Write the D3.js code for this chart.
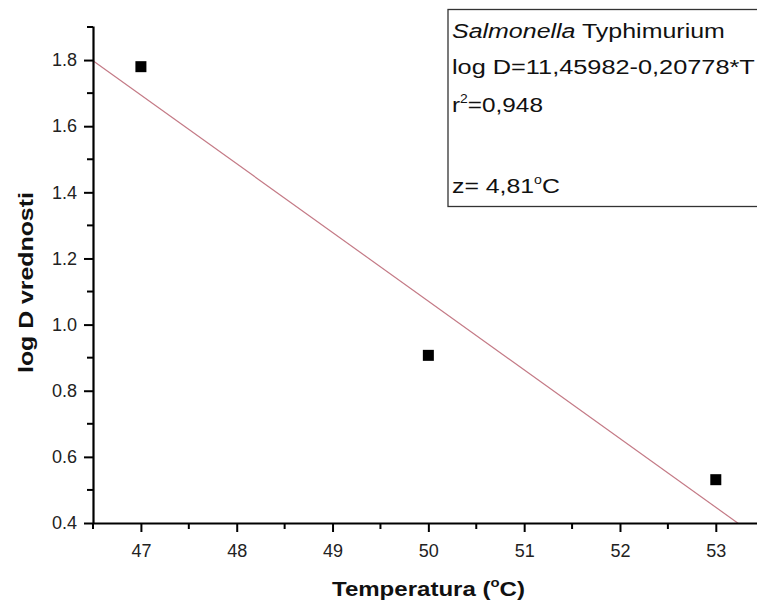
<!DOCTYPE html>
<html>
<head>
<meta charset="utf-8">
<script src="https://cdn.jsdelivr.net/npm/d3@7"></script>
<style>
  body { margin: 0; background: #fff; }
  text { font-family: "Liberation Sans", Arial, sans-serif; }
</style>
</head>
<body>
<svg id="chart" width="757" height="608"></svg>
<script>
// measured points
var temps = [47, 50, 53];
var logD = [1.78, 0.907, 0.531];
// linear fit from the legend
var intercept = 11.45982, slope = -0.20778;
var xTicks = [47, 48, 49, 50, 51, 52, 53];
var yTicks = [0.4, 0.6, 0.8, 1.0, 1.2, 1.4, 1.6, 1.8];

var margin = {left: 93, top: 26, right: 0, bottom: 85},
    width = 757 - margin.left - margin.right,
    height = 608 - margin.top - margin.bottom;

var svg = d3.select("#chart");
var g = svg.append("g")
    .attr("transform", "translate(" + margin.left + "," + margin.top + ")");

var x = d3.scaleLinear().domain([46.5, 53.43]).range([0, width]);
var y = d3.scaleLinear().domain([0.4, 1.903]).range([height, 0]);

// the original text is drawn wider than the font, so stretch it to the measured width
function stretch(sel, x0, target, extra) {
  var w = sel.node().getComputedTextLength();
  sel.attr("x", 0).attr("transform", "translate(" + x0 + ",0)" + (extra || "") + " scale(" + (target / w) + ",1)");
}

g.append("clipPath").attr("id", "clip")
  .append("rect").attr("width", width).attr("height", height);

// fit line
g.append("line")
    .attr("clip-path", "url(#clip)")
    .attr("x1", x(46.5)).attr("y1", y(intercept + slope * 46.5))
    .attr("x2", x(53.43)).attr("y2", y(intercept + slope * 53.43))
    .attr("stroke", "#c47a86").attr("stroke-width", 1.2);

// points
g.selectAll("rect.pt")
    .data(temps)
    .enter().append("rect")
    .attr("class", "pt")
    .attr("x", function(d) { return x(d) - 5.5; })
    .attr("y", function(d, i) { return y(logD[i]) - 5.5; })
    .attr("width", 11).attr("height", 11)
    .attr("fill", "#000");

// minor ticks
var xMinor = d3.range(46.5, 53.5, 0.5).filter(function(v) { return v % 1 !== 0; });
var yMinor = d3.range(0.5, 1.95, 0.2);

var xAxis = g.append("g")
    .attr("transform", "translate(0," + height + ")")
    .call(d3.axisBottom(x).tickValues(xTicks).tickSize(9).tickSizeOuter(0).tickPadding(12).tickFormat(d3.format("d")));
xAxis.append("g").selectAll("line")
    .data(xMinor).enter().append("line")
    .attr("x1", function(d) { return x(d); }).attr("x2", function(d) { return x(d); })
    .attr("y1", 0).attr("y2", 6)
    .attr("stroke", "#000").attr("stroke-width", 2);

var yAxis = g.append("g")
    .call(d3.axisLeft(y).tickValues(yTicks).tickSize(9).tickSizeOuter(0).tickPadding(7).tickFormat(d3.format(".1f")));
yAxis.append("g").selectAll("line")
    .data(yMinor).enter().append("line")
    .attr("y1", function(d) { return y(d); }).attr("y2", function(d) { return y(d); })
    .attr("x1", 0).attr("x2", -6)
    .attr("stroke", "#000").attr("stroke-width", 2);

[xAxis, yAxis].forEach(function(a) {
  a.select(".domain").attr("stroke-width", 2.2);
  a.selectAll(".tick line").attr("stroke-width", 2);
  a.selectAll(".tick text").style("font-size", "18px").attr("fill", "#222")
    .style("font-family", "'Liberation Sans', Arial, sans-serif");
});

// axis titles
var xt = svg.append("text")
    .attr("y", 596)
    .style("font-size", "21px").style("font-weight", "bold").attr("fill", "#111");
xt.append("tspan").text("Temperatura (");
xt.append("tspan").text("o").attr("dy", -9).style("font-size", "13px");
xt.append("tspan").text("C)").attr("dy", 9);
stretch(xt, 332, 193);

var yt = svg.append("text")
    .attr("y", 0)
    .style("font-size", "20px").style("font-weight", "bold").attr("fill", "#111")
    .text("log D vrednosti");
yt.attr("transform", null);
(function() {
  var w = yt.node().getComputedTextLength();
  yt.attr("x", 0).attr("transform", "translate(33,373) rotate(-90) scale(" + (181 / w) + ",1)");
})();

// legend box
svg.append("rect")
    .attr("x", 448).attr("y", 9.5).attr("width", 320).attr("height", 197)
    .attr("fill", "#fff").attr("stroke", "#333").attr("stroke-width", 1.3);

var lx = 452;
var t1 = svg.append("text").attr("y", 38).style("font-size", "21px").attr("fill", "#111");
t1.append("tspan").text("Salmonella").style("font-style", "italic");
t1.append("tspan").text(" Typhimurium");
stretch(t1, lx, 273);

var t2 = svg.append("text").attr("y", 74).style("font-size", "21px").attr("fill", "#111")
    .text("log D=11,45982-0,20778*T");
stretch(t2, lx, 303);

var t3 = svg.append("text").attr("y", 112).style("font-size", "21px").attr("fill", "#111");
t3.append("tspan").text("r");
t3.append("tspan").text("2").attr("dy", -9).style("font-size", "12px");
t3.append("tspan").text("=0,948").attr("dy", 9);
stretch(t3, lx, 91);

var t4 = svg.append("text").attr("y", 193).style("font-size", "21px").attr("fill", "#111");
t4.append("tspan").text("z= 4,81");
t4.append("tspan").text("o").attr("dy", -9).style("font-size", "12px");
t4.append("tspan").text("C").attr("dy", 9);
stretch(t4, lx, 108);
</script>
</body>
</html>
